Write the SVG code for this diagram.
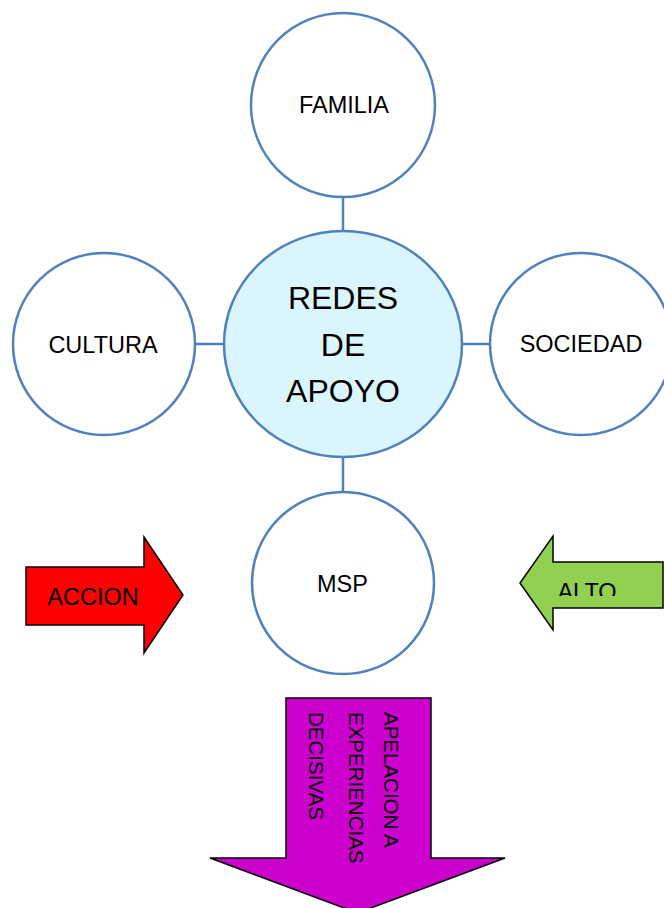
<svg xmlns="http://www.w3.org/2000/svg" width="664" height="908" viewBox="0 0 664 908">
<defs>
<style>
.node{fill:#ffffff;stroke:#4f81bd;stroke-width:2.5}
.center{fill:#daf5fb;stroke:#4f81bd;stroke-width:2.5}
.conn{stroke:#4f81bd;stroke-width:2.5;fill:none}
.lbl{font-family:"Liberation Sans",Arial,sans-serif;font-size:23.5px;fill:#000;text-anchor:middle}
.big{font-family:"Liberation Sans",Arial,sans-serif;font-size:32px;fill:#000;text-anchor:middle}
.arrow{stroke:#000;stroke-width:1.5;stroke-linejoin:miter}
.vt{font-family:"Liberation Sans",Arial,sans-serif;font-size:20.5px;fill:#000}
</style>
<clipPath id="altoclip"><rect x="520" y="530" width="144" height="66"/></clipPath>
</defs>
<rect width="664" height="908" fill="#ffffff"/>
<g id="connectors">
<line class="conn" x1="343" y1="197" x2="343" y2="231"/>
<line class="conn" x1="343" y1="457" x2="343" y2="492"/>
<line class="conn" x1="195" y1="344" x2="224" y2="344"/>
<line class="conn" x1="462" y1="344" x2="490" y2="344"/>
</g>
<g id="familia">
<circle class="node" cx="343" cy="105" r="92"/>
<text class="lbl" x="344" y="113">FAMILIA</text>
</g>
<g id="cultura">
<circle class="node" cx="104" cy="344" r="91"/>
<text class="lbl" x="103" y="353">CULTURA</text>
</g>
<g id="sociedad">
<circle class="node" cx="581" cy="344" r="91"/>
<text class="lbl" x="581" y="352">SOCIEDAD</text>
</g>
<g id="redes">
<ellipse class="center" cx="343" cy="344" rx="119" ry="113"/>
<text class="big" x="343" y="309">REDES</text>
<text class="big" x="343" y="356">DE</text>
<text class="big" x="343" y="402">APOYO</text>
</g>
<g id="msp">
<circle class="node" cx="343" cy="583" r="91"/>
<text class="lbl" x="342.5" y="592">MSP</text>
</g>
<g id="accion">
<path class="arrow" fill="#ff0000" d="M26,567 L144,567 L144,537 L183,595 L144,653 L144,625 L26,625 Z"/>
<text class="lbl" x="93" y="605">ACCION</text>
</g>
<g id="alto">
<path class="arrow" fill="#92d050" d="M663,562 L553,562 L553,536 L520,583 L553,630 L553,608 L663,608 Z"/>
<text class="lbl" x="587" y="600" clip-path="url(#altoclip)">ALTO</text>
</g>
<g id="apelacion">
<path class="arrow" fill="#cc00cc" d="M286,698 L431,698 L431,858 L505,858 L357.5,913 L210,858 L286,858 Z"/>
<text class="vt" transform="translate(384,712) rotate(90)">APELACION A</text>
<text class="vt" transform="translate(349,712) rotate(90)">EXPERIENCIAS</text>
<text class="vt" transform="translate(309,712) rotate(90)">DECISIVAS</text>
</g>
</svg>
